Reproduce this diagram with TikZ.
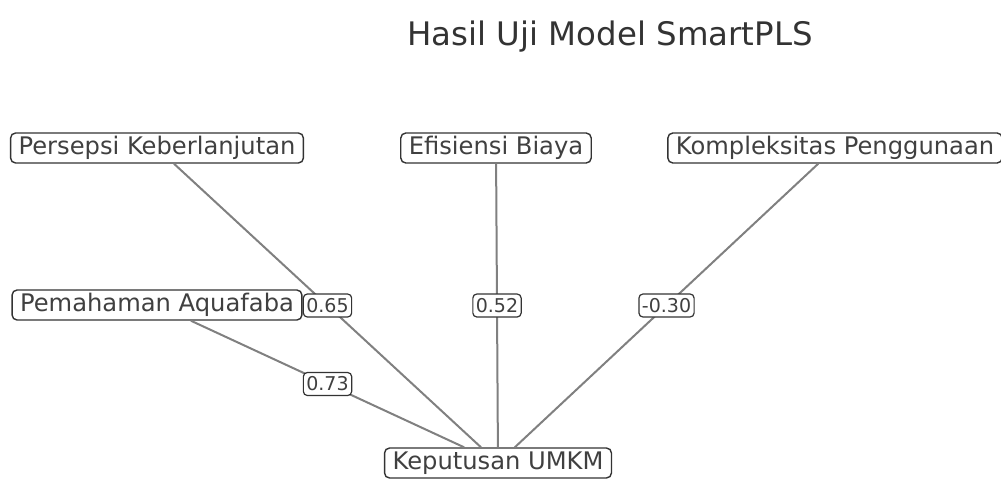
\documentclass[tikz,border=0pt]{standalone}
\usepackage{fontspec}
\setmainfont{DejaVu Sans}
\usetikzlibrary{positioning}

\begin{document}
\begin{tikzpicture}[x=0.5pt,y=-0.5pt,
  var/.style={draw=black!80,line width=0.7pt,fill=white,rounded corners=2.5pt,
    inner xsep=4pt,inner ysep=0pt,minimum height=15pt,text=black!75,
    font=\fontsize{12.1}{14}\selectfont},
  coef/.style={draw=black!80,line width=0.6pt,fill=white,rounded corners=2pt,
    inner xsep=1.5pt,inner ysep=0pt,minimum height=11.5pt,text=black!75,
    font=\fontsize{9.5}{11}\selectfont},
  link/.style={draw=black!50,line width=1pt}]
\useasboundingbox (0,0) rectangle (1001,478);

\node[text=black!80,font=\fontsize{16.2}{19}\selectfont] (title) at (610,37) {Hasil Uji Model SmartPLS};

\node[var] (persepsi) at (157,148) {Persepsi Keberlanjutan};
\node[var] (efisiensi) at (496,148) {Efisiensi Biaya};
\node[var] (kompleks) at (835,148) {Kompleksitas Penggunaan};
\node[var] (pemahaman) at (157,305) {Pemahaman Aquafaba};
\node[var] (keputusan) at (498,463) {Keputusan UMKM};

% jalur ke keputusan
\draw[link] (persepsi) -- node[coef]{0.65} (keputusan);
\draw[link] (efisiensi) -- node[coef]{0.52} (keputusan);
\draw[link] (kompleks) -- node[coef]{-0.30} (keputusan);
\draw[link] (pemahaman) -- node[coef]{0.73} (keputusan);
\end{tikzpicture}
\end{document}
